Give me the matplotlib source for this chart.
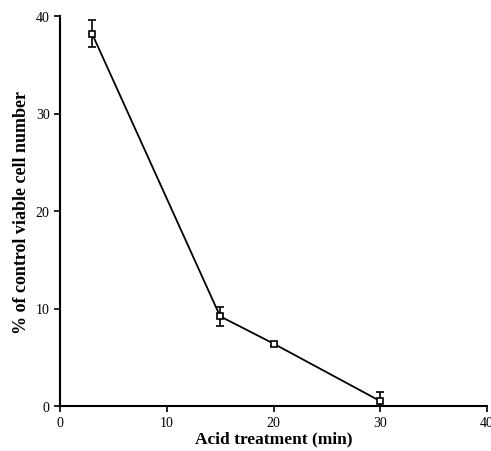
import matplotlib
matplotlib.use("Agg")
import matplotlib.pyplot as plt

plt.rcParams['font.family'] = ['Liberation Serif', 'DejaVu Serif']

time_min = [3, 15, 20, 30]
viable_pct = [38.2, 9.2, 6.4, 0.5]
err = [1.4, 1.0, 0.2, 0.9]
xticks = [0, 10, 20, 30, 40]
yticks = [0, 10, 20, 30, 40]

fig = plt.figure(figsize=(4.91, 4.52), dpi=100)
ax = fig.add_axes([60/491, 45/452, 427/491, 390/452])

ax.errorbar(time_min, viable_pct, yerr=err, color='black', lw=1.3,
            marker='s', ms=4, mfc='white', mec='black', mew=1.2,
            capsize=3, elinewidth=1.2, capthick=1.2)

ax.set_xlim(0, 40)
ax.set_ylim(0, 40)
ax.set_xticks(xticks)
ax.set_yticks(yticks)
ax.spines['top'].set_visible(False)
ax.spines['right'].set_visible(False)
ax.spines['left'].set_linewidth(1.5)
ax.spines['bottom'].set_linewidth(1.5)
ax.tick_params(direction='out', length=4, width=1.2, labelsize=10)
ax.set_xlabel('Acid treatment (min)', fontsize=12.5, fontweight='bold', labelpad=1)
ax.set_ylabel('% of control viable cell number', fontsize=13, fontweight='bold', labelpad=4)

fig.savefig('out.png', dpi=100)
